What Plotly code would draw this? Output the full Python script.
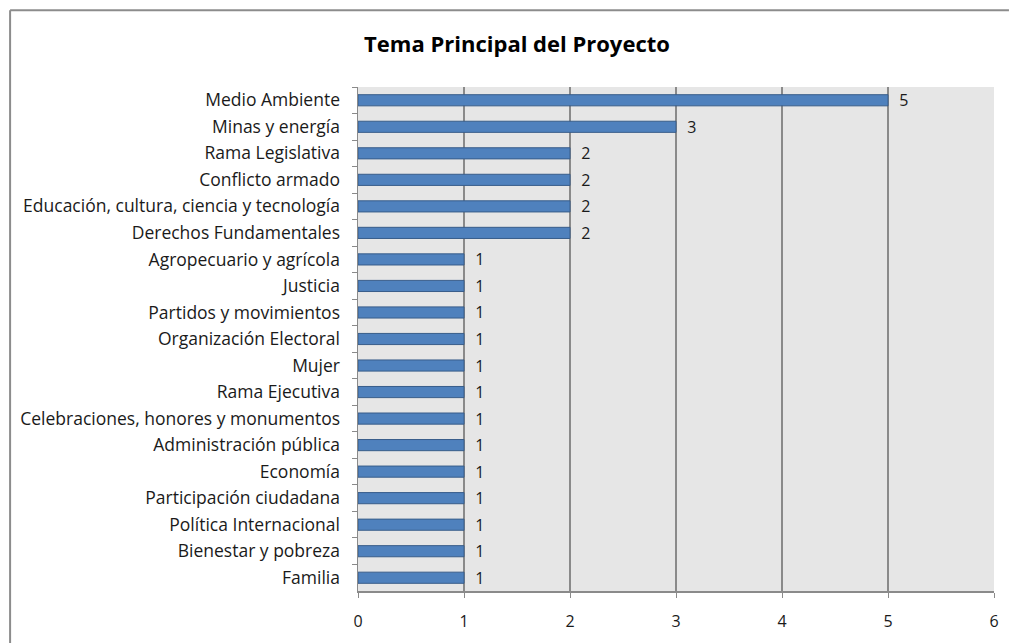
import plotly.graph_objects as go

categories = [
    "Medio Ambiente", "Minas y energía", "Rama Legislativa", "Conflicto armado",
    "Educación, cultura, ciencia y tecnología", "Derechos Fundamentales",
    "Agropecuario y agrícola", "Justicia", "Partidos y movimientos",
    "Organización Electoral", "Mujer", "Rama Ejecutiva",
    "Celebraciones, honores y monumentos", "Administración pública", "Economía",
    "Participación ciudadana", "Política Internacional", "Bienestar y pobreza", "Familia",
]
values = [5, 3, 2, 2, 2, 2, 1, 1, 1, 1, 1, 1, 1, 1, 1, 1, 1, 1, 1]
x_ticks = [0, 1, 2, 3, 4, 5, 6]

W, H = 1011, 644
L, R, T, B = 358, 15, 87, 52
pw, ph = W - L - R, H - T - B

FONT = "Open Sans"

fig = go.Figure(go.Bar(
    x=values, y=categories, orientation="h",
    marker=dict(color="#4F81BD", line=dict(color="#385D8A", width=1)),
    width=0.42,
    text=["  " + str(v) for v in values], textposition="outside",
    textfont=dict(family=FONT, size=16, color="#1a1a1a"),
    constraintext="none",
    cliponaxis=False,
))

def px_x(p):
    return (p - L) / pw

def px_y(p):
    return (H - B - p) / ph

fig.update_layout(
    width=W, height=H,
    margin=dict(l=L, r=R, t=T, b=B),
    paper_bgcolor="white", plot_bgcolor="#E6E6E6",
    title=dict(text="<b>Tema Principal del Proyecto</b>", x=517 / W, xanchor="center",
               y=1 - 44 / H, yanchor="middle", xref="container", yref="container",
               font=dict(family=FONT, size=22, color="black")),
    showlegend=False,
    font=dict(family=FONT, size=16, color="#1a1a1a"),
    shapes=[
        dict(type="line", xref="paper", yref="paper",
             x0=px_x(9), x1=px_x(1011), y0=px_y(10), y1=px_y(10),
             line=dict(color="#8c8c8c", width=2), layer="above"),
        dict(type="line", xref="paper", yref="paper",
             x0=px_x(9), x1=px_x(9), y0=px_y(644), y1=px_y(10),
             line=dict(color="#8c8c8c", width=2), layer="above"),
    ],
)
fig.update_xaxes(range=[0, 6], tickvals=x_ticks, showgrid=True, gridcolor="#8a8a8a", gridwidth=1.5,
                 showline=True, linecolor="#8a8a8a", linewidth=1.5, ticks="outside", ticklen=5,
                 tickcolor="#8a8a8a", zeroline=False, ticklabelstandoff=10,
                 tickfont=dict(family=FONT, size=16, color="#1a1a1a"), fixedrange=True)
fig.update_yaxes(categoryorder="array", categoryarray=categories, autorange="reversed",
                 showline=True, linecolor="#8a8a8a", linewidth=1.5, ticks="outside", ticklen=5,
                 tickcolor="#8a8a8a", tickson="boundaries", showgrid=False,
                 ticklabelstandoff=13,
                 tickfont=dict(family=FONT, size=17.5, color="#1a1a1a"), fixedrange=True)

fig.write_html("out.html", config={"displayModeBar": False, "staticPlot": True},
               post_script="document.body.style.margin='0';document.body.style.padding='0';document.body.style.overflow='hidden';")
